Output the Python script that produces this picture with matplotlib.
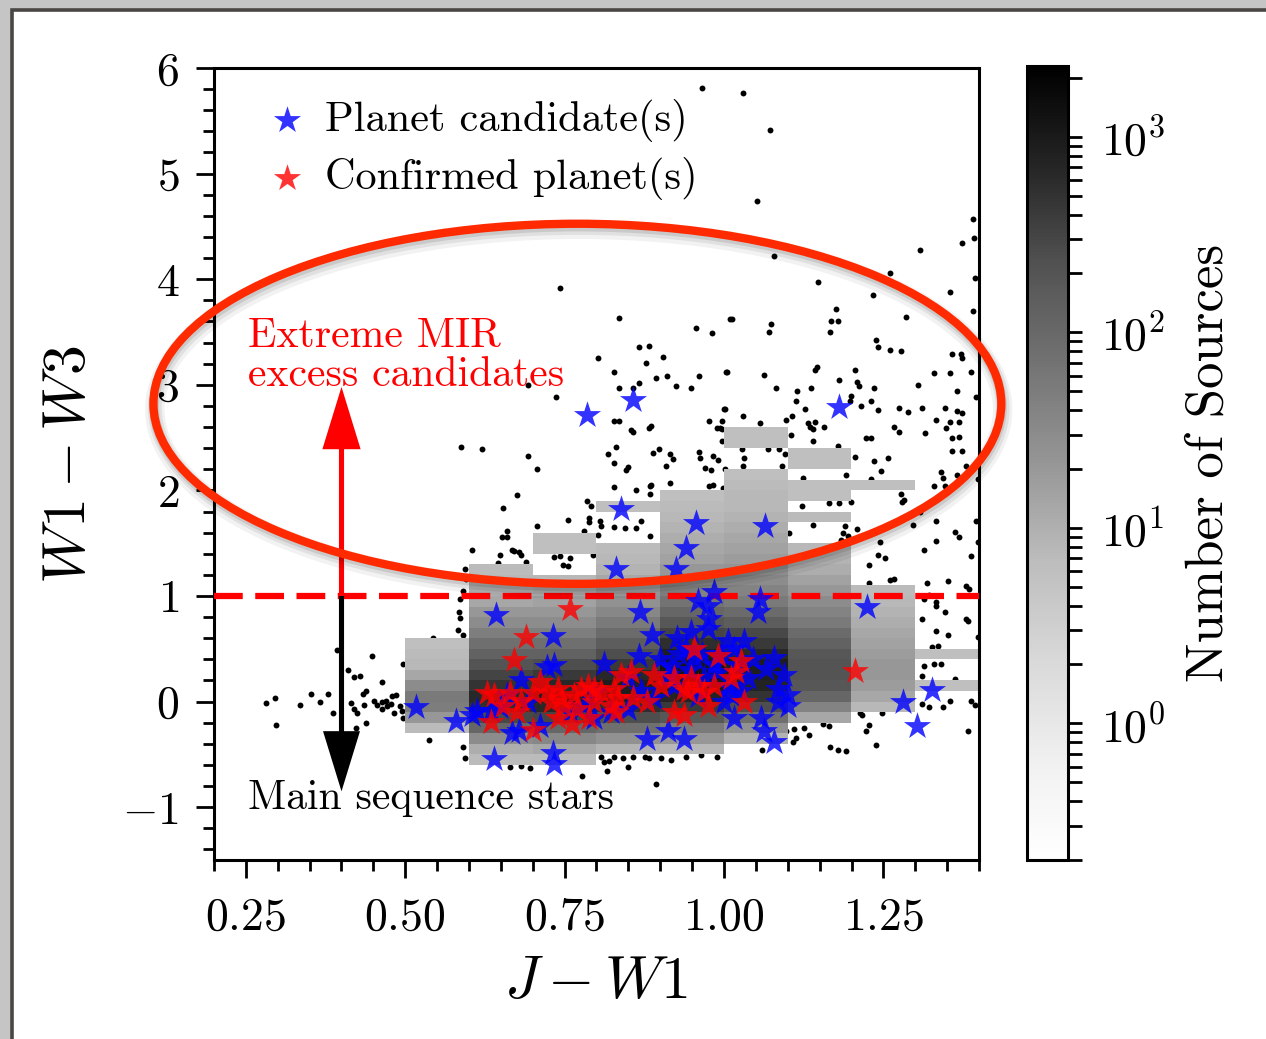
import numpy as np
import matplotlib
matplotlib.use("Agg")
import matplotlib.pyplot as plt
import matplotlib.patheffects as pe
from matplotlib.colors import LogNorm
from matplotlib.patches import Ellipse, Rectangle
from matplotlib.ticker import MultipleLocator, AutoMinorLocator

plt.rcParams["font.family"] = "serif"
plt.rcParams["font.serif"] = ["cmr10"]
plt.rcParams["mathtext.fontset"] = "cm"
plt.rcParams["axes.formatter.use_mathtext"] = True

# ---- data ----
# 2D histogram of the bulk sample: x bins 0.1 wide (0.5 .. 1.4), y bins 0.1 wide (-0.6 .. 2.6)
hist_x_edges = [0.5, 0.6, 0.7, 0.8, 0.9, 1.0, 1.1, 1.2, 1.3, 1.4]
hist_y_edges = np.linspace(-0.6, 2.6, 33)
col_050 = [0, 0, 0, 7, 21, 48, 55, 30, 13, 8, 7, 6, 0, 0, 0, 0, 0, 0, 0, 0, 0, 0, 0, 0, 0, 0, 0, 0, 0, 0, 0, 0]
col_060 = [7, 11, 30, 110, 280, 560, 650, 480, 320, 200, 128, 78, 47, 30, 21, 13, 9, 8, 7, 0, 0, 0, 0, 0, 0, 0, 0, 0, 0, 0, 0, 0]
col_070 = [7, 13, 35, 110, 320, 650, 880, 650, 420, 240, 128, 78, 47, 30, 21, 15, 11, 8, 0, 0, 6, 6, 0, 0, 0, 0, 0, 0, 0, 0, 0, 0]
col_080 = [0, 9, 25, 78, 240, 560, 880, 880, 650, 420, 240, 150, 90, 55, 35, 25, 18, 13, 9, 8, 7, 0, 0, 0, 6, 0, 0, 0, 0, 0, 0, 0]
col_090 = [0, 8, 21, 55, 180, 420, 750, 1000, 1150, 1150, 880, 560, 320, 180, 110, 67, 40, 30, 21, 15, 13, 11, 9, 8, 7, 6, 0, 0, 0, 0, 0, 0]
col_100 = [0, 0, 9, 25, 78, 240, 480, 750, 880, 880, 650, 420, 280, 150, 90, 55, 40, 30, 23, 18, 15, 13, 11, 9, 8, 8, 7, 6, 0, 0, 6, 6]
col_110 = [0, 0, 0, 0, 13, 40, 110, 180, 200, 200, 180, 128, 90, 55, 40, 30, 21, 15, 11, 9, 8, 0, 0, 7, 0, 6, 6, 0, 6, 6, 0, 0]
col_120 = [0, 0, 0, 0, 0, 8, 13, 18, 21, 21, 18, 15, 13, 11, 9, 8, 7, 0, 0, 0, 0, 0, 0, 0, 0, 0, 6, 0, 0, 0, 0, 0]
col_130 = [0, 0, 0, 0, 0, 0, 0, 6, 0, 0, 6, 0, 0, 0, 0, 0, 0, 0, 0, 0, 0, 0, 0, 0, 0, 0, 0, 0, 0, 0, 0, 0]

# sparse sources drawn as single dots (J-W1, W1-W3)
field_sources = [
    (0.281, -0.01), (0.296, 0.03), (0.297, -0.22), (0.335, -0.03), (0.352, 0.07), (0.366, 0.00),
    (0.379, 0.07), (0.387, -0.11), (0.393, 0.49), (0.410, 0.30), (0.420, 0.23), (0.429, 0.24),
    (0.448, 0.43), (0.464, 0.19), (0.415, -0.01), (0.420, -0.07), (0.425, -0.11), (0.423, -0.25),
    (0.434, 0.07), (0.439, 0.10), (0.436, -0.03), (0.439, -0.20), (0.451, 0.01), (0.456, -0.03),
    (0.464, 0.00), (0.470, 0.01), (0.472, -0.04), (0.480, 0.05), (0.486, 0.06), (0.478, -0.02),
    (0.491, -0.04), (0.483, -0.11), (0.495, -0.09), (0.497, -0.16), (0.464, -0.07), (0.497, 0.36),
    (0.544, 0.60), (0.538, -0.36), (0.590, -0.43), (0.593, -0.53), (0.590, 1.05), (0.586, 0.97),
    (0.585, 0.85), (0.586, 0.79), (0.582, 0.68), (0.590, 0.63), (0.593, 1.26), (0.596, 1.16),
    # upper middle
    (0.742, 3.92), (0.835, 3.63), (0.956, 3.54), (0.981, 3.49), (1.009, 3.62), (0.866, 3.36),
    (0.882, 3.37), (0.802, 3.25), (0.904, 3.26), (0.877, 3.21), (0.827, 3.12), (0.866, 3.02),
    (0.893, 3.06), (0.910, 3.08), (0.925, 2.99), (0.948, 2.97), (0.961, 3.08), (1.003, 3.12),
    (0.835, 2.97), (0.857, 2.97), (0.692, 3.00), (0.736, 2.88), (0.827, 2.66), (0.836, 2.66),
    (0.854, 2.57), (0.858, 2.55), (0.882, 2.59), (0.885, 2.61), (1.000, 2.77), (0.976, 2.66),
    (0.997, 2.66), (0.989, 2.59), (0.994, 2.59), (0.997, 2.47), (0.588, 2.41), (0.621, 2.39),
    (0.692, 2.33), (0.706, 2.20), (0.818, 2.34), (0.831, 2.41), (0.827, 2.26), (0.849, 2.22),
    (0.847, 2.19), (0.888, 2.35), (0.898, 2.39), (0.915, 2.34), (0.920, 2.30), (0.909, 2.23),
    (0.961, 2.36), (0.962, 2.31), (0.983, 2.33), (0.991, 2.29), (0.970, 2.21), (0.979, 2.19),
    (1.002, 2.20), (0.827, 2.03), (0.862, 2.00), (0.884, 2.04), (0.885, 2.05), (0.884, 1.97),
    (0.915, 2.07), (0.976, 2.04), (0.983, 2.05), (0.998, 2.02), (0.675, 1.96), (0.654, 1.83),
    (0.785, 1.90), (0.792, 1.85), (0.755, 1.72), (0.789, 1.74), (0.788, 1.70), (0.805, 1.71),
    (0.807, 1.66), (0.870, 1.71), (0.862, 1.64), (0.706, 1.66), (0.659, 1.62), (0.651, 1.56),
    (0.660, 1.56), (0.781, 1.62), (0.803, 1.58), (0.605, 1.44), (0.649, 1.39), (0.668, 1.44),
    (0.671, 1.43), (0.679, 1.42), (0.682, 1.39), (0.689, 1.32), (0.646, 1.31), (0.733, 1.37),
    (0.742, 1.38), (0.759, 1.36), (0.748, 1.29), (0.755, 1.28), (0.794, 1.39), (0.827, 1.65),
    (0.844, 1.64), (0.884, 1.57),
    # top
    (0.965, 5.81), (1.030, 5.76), (1.072, 5.41),
    # upper right
    (1.052, 4.74), (1.390, 4.57), (1.392, 4.39), (1.374, 4.34), (1.308, 4.28), (1.079, 4.22),
    (1.261, 4.06), (1.393, 4.01), (1.148, 3.97), (1.354, 3.88), (1.234, 3.85), (1.390, 3.70),
    (1.176, 3.72), (1.013, 3.62), (1.074, 3.58), (1.071, 3.50), (1.168, 3.60), (1.179, 3.60),
    (1.167, 3.50), (1.285, 3.64), (1.239, 3.42), (1.242, 3.36), (1.261, 3.33), (1.277, 3.32),
    (1.358, 3.29), (1.371, 3.29), (1.374, 3.25), (1.005, 3.12), (1.063, 3.09), (1.146, 3.17),
    (1.143, 3.14), (1.206, 3.14), (1.181, 3.05), (1.208, 3.03), (1.211, 2.99), (1.329, 3.11),
    (1.355, 3.11), (1.388, 3.12), (1.082, 2.97), (1.115, 2.94), (1.113, 2.85), (1.137, 2.97),
    (1.236, 2.97), (1.305, 3.00), (1.365, 2.94), (1.396, 2.88), (1.200, 2.89), (1.198, 2.85),
    (1.231, 2.85), (1.002, 2.77), (1.030, 2.70), (1.057, 2.64), (1.127, 2.77), (1.097, 2.67),
    (1.107, 2.70), (1.132, 2.64), (1.135, 2.60), (1.142, 2.65), (1.140, 2.58), (1.157, 2.60),
    (1.215, 2.80), (1.242, 2.76), (1.274, 2.78), (1.288, 2.74), (1.310, 2.78), (1.333, 2.67),
    (1.347, 2.78), (1.366, 2.75), (1.373, 2.73), (1.368, 2.65), (1.355, 2.65), (1.349, 2.59),
    (1.357, 2.50), (1.368, 2.51), (1.267, 2.60), (1.275, 2.55), (1.316, 2.54), (1.223, 2.50),
    (1.231, 2.50), (0.997, 2.58), (1.105, 2.52), (1.140, 2.47), (1.179, 2.42), (1.206, 2.32),
    (1.236, 2.28), (1.258, 2.31), (1.247, 2.18), (1.357, 2.37), (1.373, 2.37), (1.379, 2.23),
    (1.028, 2.39), (1.031, 2.31), (1.030, 2.23), (1.069, 2.39), (1.086, 2.39), (1.096, 2.34),
    (1.091, 2.23), (1.124, 2.12), (1.192, 2.15), (1.231, 2.11), (1.329, 2.04), (1.346, 2.04),
    (1.344, 2.12), (1.341, 2.17), (1.366, 2.15), (1.399, 2.11), (1.277, 1.97), (1.283, 1.91),
    (1.280, 1.89), (1.200, 1.89), (1.164, 1.88), (1.181, 1.88), (1.123, 1.85), (1.308, 1.80),
    (1.333, 1.71), (1.275, 1.72), (1.297, 1.67), (1.362, 1.61), (1.368, 1.56), (1.395, 1.71),
    (1.332, 1.52), (1.314, 1.44), (1.387, 1.38), (1.140, 1.67), (1.102, 1.60), (1.190, 1.66),
    (1.187, 1.60), (1.195, 1.57), (1.184, 1.53), (1.208, 1.63), (1.226, 1.59), (1.245, 1.51),
    (1.242, 1.39), (1.252, 1.36), (1.228, 1.29), (1.261, 1.15), (1.266, 1.16), (1.318, 1.12),
    (1.352, 1.14), (1.399, 1.51), (1.228, 1.12),
    # lower right
    (1.379, 1.09), (1.384, 1.07), (1.314, 0.97), (1.333, 0.91), (1.347, 0.85), (1.382, 0.76),
    (1.322, 1.01), (1.332, 0.94), (1.311, 0.78), (1.379, 0.78), (1.332, 0.67), (1.351, 0.63),
    (1.398, 0.61), (1.327, 0.52), (1.335, 0.53), (1.313, 0.34), (1.329, 0.36), (1.341, 0.36),
    (1.363, 0.21), (1.311, 0.24), (1.311, -0.02), (1.322, -0.05), (1.344, -0.05), (1.355, 0.01),
    (1.388, 0.01), (1.393, -0.03), (1.382, -0.28), (1.248, -0.11), (1.214, -0.11), (1.217, -0.13),
    (1.228, -0.22), (1.223, -0.28), (1.239, -0.41), (1.167, -0.43), (1.179, -0.46), (1.192, -0.47),
    (1.156, -0.21), (1.164, -0.23), (1.126, -0.25), (1.110, -0.26), (1.113, -0.34), (1.108, -0.38),
    (1.134, -0.32), (1.097, -0.28),
    # below the histogram
    (0.807, -0.52), (0.811, -0.57), (0.819, -0.56), (0.827, -0.52), (0.841, -0.53), (0.858, -0.52),
    (0.876, -0.52), (0.882, -0.53), (0.901, -0.53), (0.917, -0.55), (0.940, -0.52), (0.964, -0.51),
    (0.989, -0.52), (0.849, -0.62), (0.816, -0.66), (0.778, -0.70), (0.696, -0.63), (0.665, -0.62),
    (0.681, -0.61), (1.060, -0.46), (0.893, -0.78),
]

# planet hosts (J-W1, W1-W3)
candidate_x = [0.517, 0.579, 0.605, 0.613, 0.634, 0.649, 0.639, 0.642, 0.660, 0.668, 0.678, 0.681,
               0.692, 0.712, 0.722, 0.731, 0.733, 0.731, 0.733, 0.759, 0.780, 0.785, 0.796, 0.796,
               0.811, 0.823, 0.830, 0.839, 0.849, 0.849, 0.857, 0.866, 0.868, 0.880, 0.887, 0.890,
               0.912, 0.912, 0.917, 0.921, 0.925, 0.927, 0.937, 0.940, 0.941, 0.948, 0.956, 0.959,
               0.969, 0.975, 0.976, 0.975, 0.984, 0.991, 1.000, 1.006, 1.006, 1.011, 1.016, 1.016,
               1.031, 1.038, 1.053, 1.057, 1.058, 1.063, 1.064, 1.066, 1.079, 1.079, 1.085, 1.085,
               1.094, 1.101, 1.101, 1.181, 1.225, 1.281, 1.303, 1.327, 0.955, 0.965, 0.985, 0.930,
               0.995, 1.020, 0.945, 1.045, 0.870, 0.900, 0.960, 1.025]
candidate_y = [-0.05, -0.18, -0.13, -0.09, -0.09, -0.05, -0.54, 0.82, 0.06, -0.30, -0.28, 0.20,
               0.00, -0.23, 0.33, 0.62, 0.35, -0.49, -0.59, -0.10, -0.04, 2.71, -0.16, 0.09,
               0.36, -0.10, 1.26, 1.82, -0.07, 0.22, 2.86, 0.43, 0.85, -0.35, 0.63, 0.03,
               -0.28, 0.25, 0.34, 0.15, 1.26, 0.60, -0.35, 0.50, 1.45, 0.66, 1.69, 0.95,
               0.22, 0.91, 0.78, 0.69, 1.04, 0.28, 0.00, 0.57, 0.15, 0.06, 0.50, -0.16,
               0.57, 0.22, 0.85, 0.97, -0.16, -0.28, 1.66, 0.31, 0.41, -0.38, 0.12, 0.00,
               0.25, 0.06, -0.04, 2.79, 0.90, 0.00, -0.23, 0.11, 0.40, 0.45, 0.35, 0.45,
               0.45, 0.35, 0.30, 0.40, 0.10, 0.40, 0.05, 0.10]

confirmed_x = [0.759, 0.689, 0.670, 0.712, 0.629, 0.639, 0.665, 0.681, 0.654, 0.701, 0.723, 0.739,
               0.744, 0.764, 0.775, 0.786, 0.796, 0.807, 0.827, 0.838, 0.854, 0.858, 0.880, 0.890,
               0.833, 0.823, 0.796, 0.770, 0.749, 0.728, 0.634, 0.676, 0.701, 0.739, 0.762, 0.788,
               0.830, 0.921, 0.937, 0.921, 0.937, 0.948, 0.953, 0.959, 0.969, 0.984, 0.991, 1.011,
               1.019, 1.027, 1.031, 0.975, 0.943, 0.901, 1.206]
confirmed_y = [0.88, 0.61, 0.39, 0.19, 0.08, 0.06, 0.08, 0.01, -0.04, 0.08, 0.09, 0.12,
               0.03, 0.06, 0.12, 0.15, 0.12, 0.09, 0.12, 0.25, 0.28, 0.03, 0.00, 0.25,
               0.03, -0.04, 0.00, -0.07, -0.04, 0.00, -0.19, -0.10, -0.27, -0.16, -0.21, -0.16,
               -0.10, -0.10, -0.13, 0.22, 0.12, 0.22, 0.50, 0.15, 0.09, 0.15, 0.43, 0.22,
               0.28, 0.38, 0.00, -0.04, 0.09, 0.15, 0.29]

fig = plt.figure(figsize=(12.66, 10.39), dpi=100)

# screenshot-like frame around the figure
fig.add_artist(Rectangle((0, 0), 1, 1, transform=fig.transFigure, fc="#c5c5c5", ec="none", zorder=-10))
fig.add_artist(Rectangle((11.5 / 1266, -0.05), 1.1, 1.05 - 9.5 / 1039, transform=fig.transFigure,
                         fc="white", ec="#4a4644", lw=2.6, zorder=-9))

ax = fig.add_axes([214 / 1266, 179 / 1039, 765 / 1266, 792 / 1039])
cax = fig.add_axes([1027 / 1266, 179 / 1039, 41 / 1266, 794 / 1039])

field = np.array(field_sources)
ax.scatter(field[:, 0], field[:, 1], s=18, c="black", lw=0, zorder=1)

counts = np.array([col_050, col_060, col_070, col_080, col_090, col_100, col_110, col_120, col_130]).T
counts = np.ma.masked_equal(counts, 0)
mesh = ax.pcolormesh(hist_x_edges, hist_y_edges, counts, cmap="Greys",
                     norm=LogNorm(vmin=0.2, vmax=2300), zorder=2)

ax.axhline(1.0, color="red", lw=4.5, ls=(0, (4.6, 2.0)), zorder=3)

h_blue = ax.scatter(candidate_x, candidate_y, marker="*", s=420, c="blue", alpha=0.8, lw=0, zorder=4)
h_red = ax.scatter(confirmed_x, confirmed_y, marker="*", s=420, c="red", alpha=0.8, lw=0, zorder=4.5)

# arrows + annotations
ax.arrow(0.4, 1.0, 0, 1.98, width=0.008, head_width=0.06, head_length=0.59,
         length_includes_head=True, fc="red", ec="none", zorder=5)
ax.arrow(0.4, 1.0, 0, -1.85, width=0.008, head_width=0.058, head_length=0.57,
         length_includes_head=True, fc="black", ec="none", zorder=5)
ax.text(0.253, 3.46, "Extreme MIR", color="red", fontsize=30, va="center", zorder=6)
ax.text(0.253, 3.09, "excess candidates", color="red", fontsize=30, va="center", zorder=6)
ax.text(0.253, -0.92, "Main sequence stars", color="black", fontsize=30, va="center", zorder=6)

ell = Ellipse((0.770, 2.82), 1.33, 3.41, fill=False, ec="#ff2a00", lw=6, clip_on=False, zorder=7)
ell.set_path_effects([
    pe.SimpleLineShadow(offset=(1, -4), shadow_color="k", alpha=0.05, linewidth=14),
    pe.SimpleLineShadow(offset=(1, -3), shadow_color="k", alpha=0.07, linewidth=10),
    pe.SimpleLineShadow(offset=(0.5, -2), shadow_color="k", alpha=0.10, linewidth=7),
    pe.Normal(),
])
ax.add_patch(ell)

ax.set_xlim(0.2, 1.4)
ax.set_ylim(-1.5, 6)
ax.xaxis.set_major_locator(MultipleLocator(0.25))
ax.xaxis.set_minor_locator(AutoMinorLocator())
ax.yaxis.set_major_locator(MultipleLocator(1))
ax.yaxis.set_minor_locator(AutoMinorLocator())
ax.tick_params(which="major", direction="out", length=13, width=2, labelsize=33)
ax.tick_params(axis="x", which="major", pad=14)
ax.tick_params(axis="y", which="major", pad=12)
ax.tick_params(which="minor", direction="out", length=8, width=2)
for sp in ax.spines.values():
    sp.set_linewidth(2.2)
ax.set_xlabel("$J-W1$", fontsize=43, labelpad=12)
ax.set_ylabel("$W1-W3$", fontsize=43, labelpad=18)

ax.legend([h_blue, h_red], ["Planet candidate(s)", "Confirmed planet(s)"], loc="upper left",
          bbox_to_anchor=(0.046, 0.982), borderaxespad=0, frameon=False, fontsize=30.5,
          handlelength=1.0, handletextpad=0.4, labelspacing=0.36, scatterpoints=1)

cbar = fig.colorbar(mesh, cax=cax)
cbar.outline.set_linewidth(2.2)
cbar.ax.tick_params(which="both", direction="out", length=10, width=2, labelsize=33, pad=14)
cbar.set_label("Number of Sources", fontsize=38, labelpad=14)

fig.savefig("out.png", dpi=100)
